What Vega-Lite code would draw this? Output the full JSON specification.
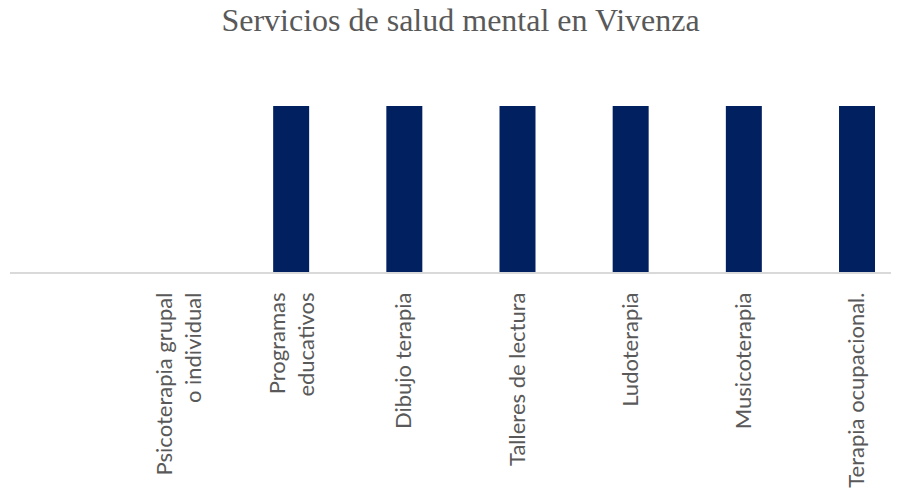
{
  "$schema": "https://vega.github.io/schema/vega-lite/v6.json",
  "autosize": "none",
  "width": 881,
  "height": 167,
  "padding": {"left": 10, "top": 106, "right": 11, "bottom": 224},
  "background": "white",
  "title": {
    "text": "Servicios de salud mental en Vivenza",
    "font": "Liberation Serif",
    "fontSize": 32,
    "fontWeight": "normal",
    "color": "#595959",
    "anchor": "middle",
    "offset": 68,
    "dx": 10
  },
  "data": {
    "values": [
      {"servicio": "Psicoterapia grupal|o individual", "valor": 0},
      {"servicio": "Programas|educativos", "valor": 1},
      {"servicio": "Dibujo terapia", "valor": 1},
      {"servicio": "Talleres de lectura", "valor": 1},
      {"servicio": "Ludoterapia", "valor": 1},
      {"servicio": "Musicoterapia", "valor": 1},
      {"servicio": "Terapia ocupacional.", "valor": 1}
    ]
  },
  "layer": [
    {
      "mark": {"type": "bar", "color": "#002060"},
      "encoding": {
        "x": {
          "field": "servicio",
          "type": "nominal",
          "sort": null,
          "scale": {"range": [111.4, 903.6], "paddingInner": 0.682, "paddingOuter": 0.341},
          "axis": {
            "title": null,
            "labelAngle": 270,
            "labelAlign": "right",
            "labelBaseline": "middle",
            "labelFont": "Lato",
            "labelFontSize": 22,
            "labelColor": "#595959",
            "labelLineHeight": 29,
            "labelPadding": 19,
            "labelOffset": {"condition": {"test": "indexof(datum.value, '|') >= 0", "value": -13}, "value": 0},
            "labelExpr": "split(datum.label, '|')",
            "ticks": false,
            "domain": false,
            "grid": false,
            "labelOverlap": false,
            "labelLimit": 0
          }
        },
        "y": {
          "field": "valor",
          "type": "quantitative",
          "scale": {"domain": [0, 1], "nice": false},
          "axis": null
        }
      }
    },
    {
      "mark": {"type": "rule", "color": "#d9d9d9", "strokeWidth": 1.5},
      "encoding": {"y": {"datum": 0, "type": "quantitative"}}
    }
  ],
  "config": {"view": {"stroke": null}}
}
